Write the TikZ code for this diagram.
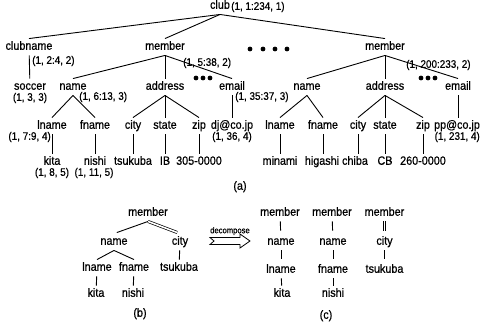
\documentclass[tikz,border=0pt]{standalone}
\usepackage{fontspec}
\setmainfont[FakeStretch=0.9,FakeBold=0.6]{Liberation Sans}
\begin{document}
\begin{tikzpicture}[x=1pt,y=-1pt,
  tn/.style={inner xsep=1pt, inner ysep=3pt, text height=8pt, text depth=2.5pt, font=\fontsize{12}{14}\selectfont},
  lab/.style={inner sep=0pt, font=\fontsize{11}{13}\selectfont},
  ln/.style={line width=0.9pt},
  sh/.style={ln, shorten >=3pt},
  dbl/.style={line width=0.7pt, double, double distance=1.6pt},
  bul/.style={fill=black, circle, inner sep=0pt, minimum size=4.8pt}]
\useasboundingbox (0,0) rectangle (481,327);
% ---------- (a) ----------
\node[tn] (club) at (220,6) {club};
\node[lab, anchor=west] (lclub) at (231,7) {(1, 1:234, 1)};
\node[tn] (clubname) at (29,47) {clubname};
\node[lab, anchor=west] (lclubname) at (32,61) {(1, 2:4, 2)};
\node[tn] (soccer) at (30,87) {soccer};
\node[lab] (lsoccer) at (30,98) {(1, 3, 3)};
\node[tn] (m1) at (165,47) {member};
\node[lab, anchor=west] (lm1) at (183,63) {(1, 5:38, 2)};
\node[tn] (name1) at (73,87) {name};
\node[lab, anchor=west] (lname1) at (79,97) {(1, 6:13, 3)};
\node[tn] (addr1) at (165,87) {address};
\node[tn] (email1) at (232,87) {email};
\node[lab, anchor=west] (lemail1) at (235,97) {(1, 35:37, 3)};
\node[tn] (ln1) at (52,126) {lname};
\node[lab, anchor=east] (lln1) at (51,137) {(1, 7:9, 4)};
\node[tn] (fn1) at (95,126) {fname};
\node[tn] (city1) at (133,126) {city};
\node[tn] (state1) at (165,126) {state};
\node[tn] (zip1) at (199,126) {zip};
\node[tn] (dj) at (232,126) {dj@co.jp};
\node[lab] (ldj) at (232,137) {(1, 36, 4)};
\node[tn] (kita1) at (52,162) {kita};
\node[lab] (lkita1) at (52,173) {(1, 8, 5)};
\node[tn] (nishi1) at (95,162) {nishi};
\node[lab] (lnishi1) at (94,173) {(1, 11, 5)};
\node[tn] (tsu1) at (133,162) {tsukuba};
\node[tn] (ib) at (165,162) {IB};
\node[tn] (zc1) at (199,162) {305-0000};
\node[tn] (m2) at (385,47) {member};
\node[lab, anchor=west] (lm2) at (406,65) {(1, 200:233, 2)};
\node[tn] (name2) at (307,87) {name};
\node[tn] (addr2) at (385,87) {address};
\node[tn] (email2) at (458,87) {email};
\node[tn] (ln2) at (280,126) {lname};
\node[tn] (fn2) at (323,126) {fname};
\node[tn] (city2) at (358,126) {city};
\node[tn] (state2) at (385,126) {state};
\node[tn] (zip2) at (423,126) {zip};
\node[tn] (pp) at (457,126) {pp@co.jp};
\node[lab, anchor=east] (lpp) at (480,137) {(1, 231, 4)};
\node[tn] (minami) at (280,162) {minami};
\node[tn] (higashi) at (322,162) {higashi};
\node[tn] (chiba) at (355,162) {chiba};
\node[tn] (cb) at (385,162) {CB};
\node[tn] (zc2) at (423,162) {260-0000};
\node[tn] (la) at (240,187) {(a)};
\foreach \x in {250,263,275,287} \node[bul] at (\x,49) {};
\foreach \x in {196,203,210} \node[bul] at (\x,78) {};
\foreach \x in {421,428,435} \node[bul] at (\x,78) {};
\draw[ln] (club.south) -- (clubname.north);
\draw[ln] (club.south) -- (m1.north);
\draw[ln] (club.south) -- (m2.north);
\draw[ln] (clubname) -- (soccer);
\draw[ln] (m1.south) -- (name1.north);
\draw[ln] (m1) -- (addr1);
\draw[ln] (m1.south) -- (email1.north);
\draw[ln] (name1.south) -- (ln1.north);
\draw[ln] (name1.south) -- (fn1.north);
\draw[ln] (addr1.south) -- (city1.north);
\draw[ln] (addr1) -- (state1);
\draw[ln] (addr1.south) -- (zip1.north);
\draw[ln] (email1) -- (dj);
\draw[ln] (ln1) -- (kita1);
\draw[ln] (fn1) -- (nishi1);
\draw[ln] (city1) -- (tsu1);
\draw[ln] (state1) -- (ib);
\draw[ln] (zip1) -- (zc1);
\draw[ln] (m2.south) -- (name2.north);
\draw[ln] (m2) -- (addr2);
\draw[ln] (m2.south) -- (email2.north);
\draw[ln] (name2.south) -- (ln2.north);
\draw[ln] (name2.south) -- (fn2.north);
\draw[ln] (addr2.south) -- (city2.north);
\draw[ln] (addr2) -- (state2);
\draw[ln] (addr2.south) -- (zip2.north);
\draw[ln] (email2.south) -- (email2.south |- pp.north);
\draw[ln] (ln2) -- (minami);
\draw[ln] (fn2.south) -- (fn2.south |- higashi.north);
\draw[ln] (city2.south) -- (city2.south |- chiba.north);
\draw[ln] (state2) -- (cb);
\draw[ln] (zip2) -- (zc2);
% ---------- (b) ----------
\node[tn] (mb) at (148,213) {member};
\node[tn] (nameb) at (114,242) {name};
\node[tn] (cityb) at (180,242) {city};
\node[tn] (lnb) at (97,268) {lname};
\node[tn] (fnb) at (134,268) {fname};
\node[tn] (tsub) at (179,268) {tsukuba};
\node[tn] (kitab) at (96,294) {kita};
\node[tn] (nishib) at (133,294) {nishi};
\node[tn] (lb) at (140,314) {(b)};
\draw[sh] (mb.south) -- (nameb.north);
\draw[dbl, shorten >=3pt] (mb.south) -- (cityb.north);
\draw[ln] (nameb.south) -- (lnb.north);
\draw[ln] (nameb.south) -- (fnb.north);
\draw[ln] (cityb) -- (tsub);
\draw[ln] (lnb) -- (kitab);
\draw[ln] (fnb) -- (nishib);
% ---------- arrow ----------
\node[inner sep=0pt, font=\fontsize{8.5}{10}\selectfont] (dec) at (230,231) {decompose};
\draw[line width=0.8pt, line join=miter] (210,237.5) -- (240,237.5) -- (240,234) -- (250,241) -- (240,248) -- (240,244.5) -- (210,244.5) -- (214,241) -- cycle;
% ---------- (c) ----------
\node[tn] (mc1) at (280,213) {member};
\node[tn] (nc1) at (281,242) {name};
\node[tn] (lnc1) at (281,270) {lname};
\node[tn] (kc1) at (282,294) {kita};
\node[tn] (mc2) at (332,213) {member};
\node[tn] (nc2) at (333,242) {name};
\node[tn] (fnc2) at (333,270) {fname};
\node[tn] (nsc2) at (333,294) {nishi};
\node[tn] (mc3) at (384.5,213) {member};
\node[tn] (cc3) at (384.5,242) {city};
\node[tn] (tc3) at (384.5,270) {tsukuba};
\node[tn] (lc) at (326,316) {(c)};
\draw[sh] (mc1) -- (nc1);
\draw[sh] (nc1) -- (lnc1);
\draw[ln] (lnc1) -- (kc1);
\draw[sh] (mc2) -- (nc2);
\draw[sh] (nc2) -- (fnc2);
\draw[ln] (fnc2) -- (nsc2);
\draw[dbl, shorten >=3pt] (mc3) -- (cc3);
\draw[ln, line width=1pt, shorten >=3pt] (cc3) -- (tc3);
\end{tikzpicture}
\end{document}
